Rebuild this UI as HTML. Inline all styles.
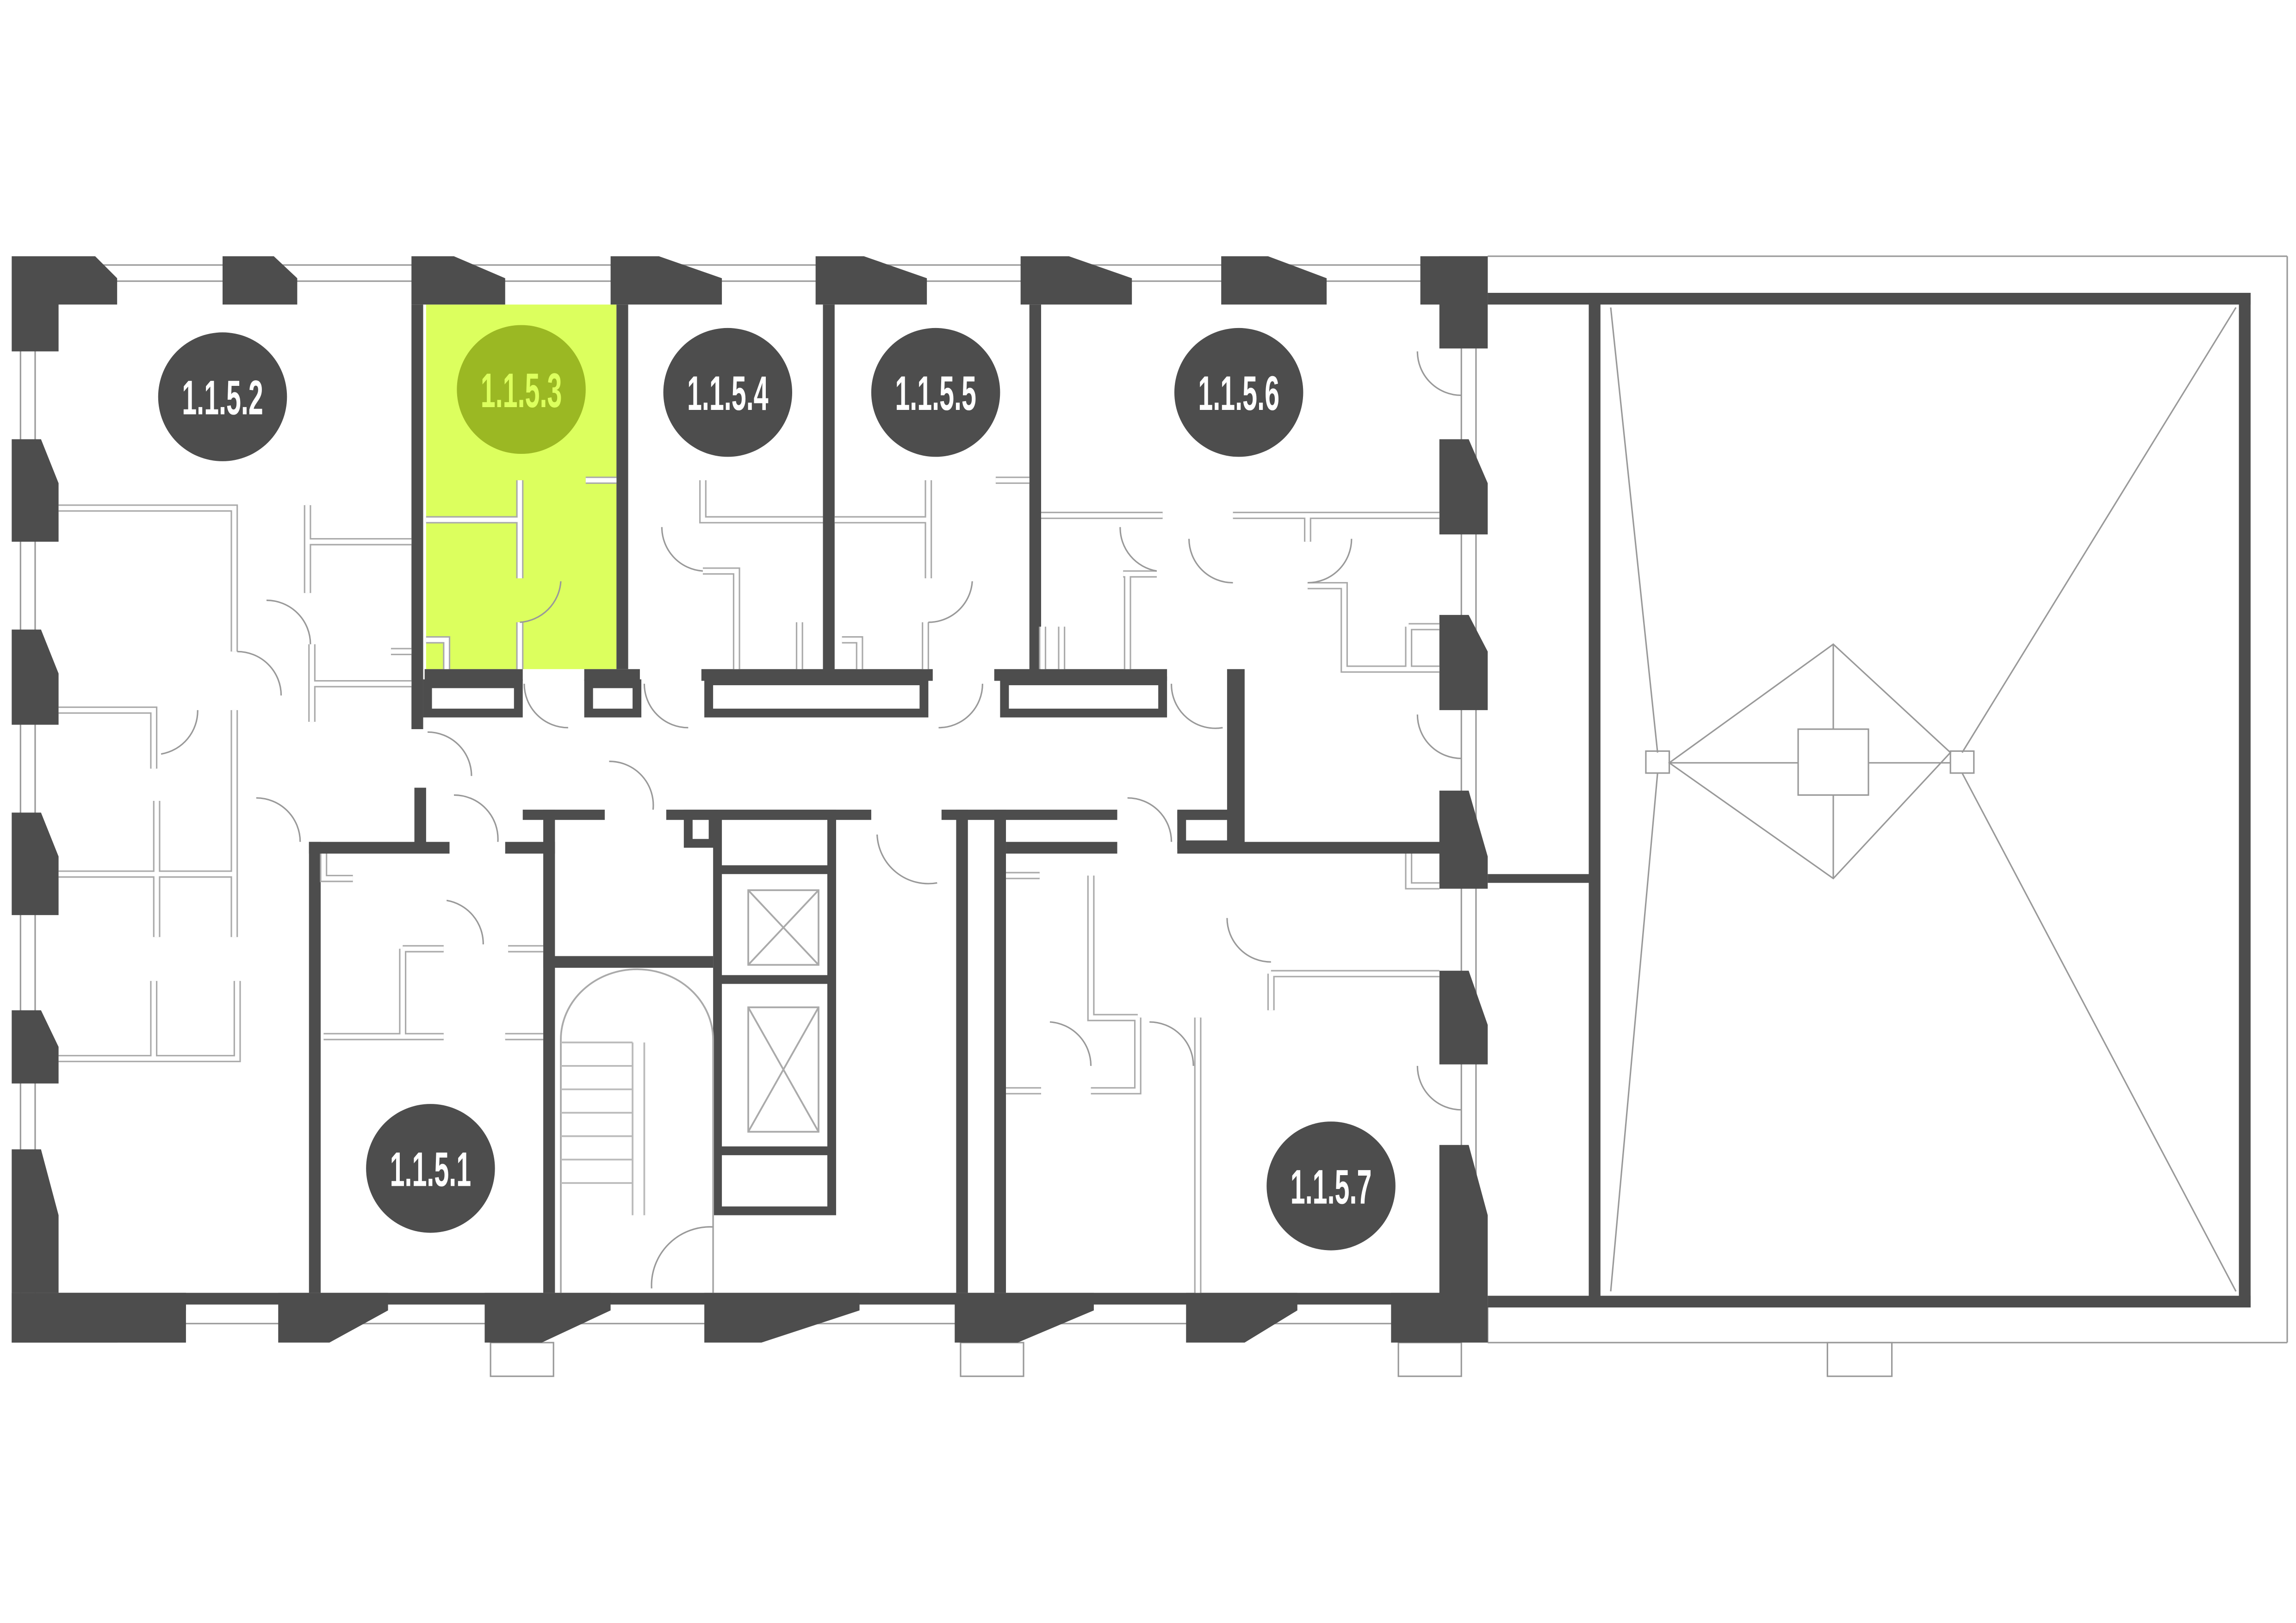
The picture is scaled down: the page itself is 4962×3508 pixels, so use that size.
<!DOCTYPE html>
<html><head><meta charset="utf-8"><style>
html,body{margin:0;padding:0;background:#fff;width:4962px;height:3508px;overflow:hidden}
svg{display:block}
text{font-family:"Liberation Sans",sans-serif;font-size:33px;font-weight:bold;fill:#fff;text-anchor:middle}
</style></head><body>
<svg width="4962" height="3508" viewBox="0 0 1568 1108.5" xmlns="http://www.w3.org/2000/svg">
<defs>
<g id="parts">
<path d="M40,347 H160 V445 M40,485 H105 V525 M40,597 H160 M107,547 V640 M160,485 V640 M40,723 H162 V670 M105,670 V723 M210,345 V405 M210,370 H281 M213,440 V493 M213,467 H281 M267,445 H281"/>
<path d="M355,328 V395 M291,355 H355 M400,328 H421 M355,425 V457 M291,437 H305 V457"/>
<path d="M480,328 V355 H562 M480,390 H503 V457 M634,328 V395 M570,355 H634 M546,425 V457 M575,437 H587 V457 M632,425 V457"/>
<path d="M711,352 H794 M680,328 H703 M767,392 H790 M770,392 V457 M712,428 V457 M725,428 V457"/>
<path d="M842,352 H983 M893,352 V370 M893,400 H918 V457 H983 M918,400 V415 M962,428 H983 M962,428 V457"/>
<path d="M221,708 H303 M345,708 H371 M275,648 V708 M275,648 H303 M347,648 H371 M221,583 V600 H241"/>
<path d="M687,598 H710 M745,598 V695 H777 M745,745 H777 V695 M687,745 H711 M818,695 V883 M868,665 H983 M868,665 V690 M962,583 V605 H983"/>
</g>
</defs>
<g fill="none" stroke="#999" stroke-width="1">
<line x1="40" y1="181" x2="983" y2="181"/><line x1="40" y1="192" x2="983" y2="192"/>
<line x1="40" y1="889" x2="983" y2="889"/><line x1="40" y1="904" x2="983" y2="904"/>
<line x1="14" y1="208" x2="14" y2="883"/><line x1="24" y1="208" x2="24" y2="883"/>
<line x1="998" y1="238" x2="998" y2="883"/><line x1="1008" y1="238" x2="1008" y2="883"/>
<line x1="1016" y1="892" x2="1016" y2="917"/><line x1="1016" y1="917" x2="1562" y2="917"/><line x1="1562" y1="175" x2="1562" y2="917"/><line x1="1016" y1="175" x2="1562" y2="175"/>
<rect x="335" y="917" width="43" height="23"/><rect x="656" y="917" width="43" height="23"/><rect x="955" y="917" width="43" height="23"/><rect x="1248" y="917" width="44" height="23"/>
<line x1="1100" y1="210" x2="1132" y2="514"/><line x1="1527" y1="210" x2="1340" y2="514"/>
<line x1="1100" y1="882" x2="1132" y2="528"/><line x1="1527" y1="882" x2="1340" y2="528"/>
<polygon points="1252,440 1332,514 1252,600 1140,521"/>
<line x1="1140" y1="521" x2="1332" y2="521"/><line x1="1252" y1="440" x2="1252" y2="600"/>
<rect x="1124" y="513" width="16" height="15"/><rect x="1332" y="513" width="16" height="15"/>
<rect x="1228" y="498" width="48" height="45" fill="#fff"/>
</g>
<rect x="291" y="208" width="130" height="249" fill="#dcff5e"/>
<g fill="#4d4d4d">
<polygon points="8,175 65,175 80,190 80,208 40,208 40,240 8,240"/>
<polygon points="152,175 187,175 203,190 203,208 152,208"/>
<polygon points="281,175 310,175 345,190 345,208 281,208"/>
<polygon points="417,175 450,175 493,190 493,208 417,208"/>
<polygon points="557,175 590,175 633,190 633,208 557,208"/>
<polygon points="697,175 730,175 773,190 773,208 697,208"/>
<polygon points="834,175 866,175 906,190 906,208 834,208"/>
<rect x="970" y="175" width="46" height="33"/><rect x="983" y="175" width="33" height="63"/>
<polygon points="8,300 28,300 40,330 40,370 8,370"/>
<polygon points="8,430 28,430 40,460 40,495 8,495"/>
<polygon points="8,555 28,555 40,585 40,625 8,625"/>
<polygon points="8,690 28,690 40,715 40,740 8,740"/>
<polygon points="8,785 28,785 40,830 40,883 8,883"/>
<rect x="8" y="883" width="119" height="34"/>
<polygon points="983,300 1003,300 1016,330 1016,365 983,365"/>
<polygon points="983,420 1003,420 1016,445 1016,485 983,485"/>
<polygon points="983,540 1003,540 1016,585 1016,607 983,607"/>
<polygon points="983,663 1003,663 1016,700 1016,727 983,727"/>
<polygon points="983,782 1003,782 1016,830 1016,917 950,917 950,883 983,883"/>
<polygon points="40,883 127,883 127,895 80,917 8,917 8,883"/>
<polygon points="190,883 265,883 265,895 225,917 190,917"/>
<polygon points="331,883 417,883 417,895 370,917 331,917"/>
<polygon points="481,883 587,883 587,895 520,917 481,917"/>
<polygon points="652,883 747,883 747,895 695,917 652,917"/>
<polygon points="810,883 886,883 886,895 850,917 810,917"/>
<rect x="40" y="883" width="943" height="8"/>
<rect x="1016" y="200" width="521" height="8"/><rect x="1016" y="885" width="521" height="8"/>
<rect x="1529" y="200" width="8" height="693"/><rect x="1085" y="200" width="8" height="693"/>
<rect x="1016" y="597" width="70" height="6"/>
<rect x="281" y="208" width="8" height="290"/><rect x="421" y="208" width="8" height="249"/>
<rect x="562" y="208" width="8" height="252"/><rect x="703" y="208" width="8" height="252"/>
<rect x="290" y="457" width="67" height="8"/><rect x="399" y="457" width="38" height="8"/>
<rect x="479" y="457" width="158" height="8"/><rect x="679" y="457" width="118" height="8"/>
<rect x="838" y="457" width="12" height="120"/>
<rect x="804" y="575" width="185" height="8"/>
<rect x="283" y="538" width="8" height="40"/>
<rect x="211" y="575" width="96" height="8"/><rect x="211" y="575" width="8" height="308"/>
<rect x="345" y="575" width="34" height="8"/>
<rect x="371" y="553" width="8" height="330"/>
<rect x="357" y="553" width="56" height="7"/><rect x="455" y="553" width="140" height="7"/>
<rect x="371" y="653" width="116" height="8"/>
<rect x="643" y="553" width="120" height="7"/><rect x="687" y="575" width="76" height="8"/>
<rect x="653" y="553" width="8" height="330"/><rect x="679" y="553" width="8" height="330"/>
<rect x="804" y="553" width="40" height="7"/>
</g>
<g fill="none" stroke="#4d4d4d" stroke-width="6">
<rect x="292" y="467" width="62" height="20"/><rect x="402" y="467" width="33" height="20"/>
<rect x="484" y="465" width="147" height="22"/><rect x="686" y="465" width="108" height="22"/>
<rect x="807" y="557" width="34" height="20"/>
<rect x="490" y="556" width="78" height="271"/>
<line x1="490" y1="594" x2="568" y2="594"/><line x1="490" y1="669" x2="568" y2="669"/><line x1="490" y1="786" x2="568" y2="786"/>
<rect x="470" y="556" width="17" height="20"/>
</g>
<g fill="none" stroke="#aaa" stroke-width="1.2">
<rect x="511" y="608" width="48" height="51"/><line x1="511" y1="608" x2="559" y2="659"/><line x1="559" y1="608" x2="511" y2="659"/>
<rect x="511" y="688" width="48" height="85"/><line x1="511" y1="688" x2="559" y2="773"/><line x1="559" y1="688" x2="511" y2="773"/>
<path d="M383,883 V710 A52,48 0 0 1 487,710 V883"/>
<g stroke="#bbb"><line x1="383" y1="712" x2="432" y2="712"/><line x1="383" y1="728" x2="432" y2="728"/><line x1="383" y1="744" x2="432" y2="744"/><line x1="383" y1="760" x2="432" y2="760"/><line x1="383" y1="776" x2="432" y2="776"/><line x1="383" y1="792" x2="432" y2="792"/><line x1="383" y1="808" x2="432" y2="808"/><line x1="432" y1="712" x2="432" y2="830"/><line x1="440" y1="712" x2="440" y2="830"/></g>
</g>
<g fill="none" stroke="#aaa" stroke-width="5"><use href="#parts"/></g>
<g fill="none" stroke="#fff" stroke-width="3"><use href="#parts"/></g>
<g fill="none" stroke="#999" stroke-width="1">
<path d="M182,410 A30,30 0 0 1 212,440"/><path d="M162,445 A30,30 0 0 1 192,475"/><path d="M110,515 A30,30 0 0 0 135,485"/>
<path d="M175,545 A30,30 0 0 1 205,575"/><path d="M383,397 A30,30 0 0 1 355,425"/><path d="M452,360 A30,30 0 0 0 480,390"/>
<path d="M664,397 A30,30 0 0 1 634,425"/><path d="M765,360 A30,30 0 0 0 790,390"/><path d="M812,368 A30,30 0 0 0 842,398"/>
<path d="M923,368 A30,30 0 0 1 893,398"/><path d="M358,467 A30,30 0 0 0 388,497"/><path d="M440,467 A30,30 0 0 0 470,497"/>
<path d="M671,467 A30,30 0 0 1 641,497"/><path d="M800,467 A30,30 0 0 0 835,497"/><path d="M292,500 A30,30 0 0 1 322,530"/>
<path d="M310,543 A30,30 0 0 1 340,575"/><path d="M416,520 A30,30 0 0 1 446,553"/><path d="M599,570 A35,35 0 0 0 640,603"/>
<path d="M770,545 A30,30 0 0 1 800,575"/><path d="M305,615 A30,30 0 0 1 330,645"/><path d="M838,627 A30,30 0 0 0 868,657"/>
<path d="M717,698 A30,30 0 0 1 745,728"/><path d="M785,698 A30,30 0 0 1 815,728"/><path d="M445,880 A40,40 0 0 1 487,838"/>
<path d="M968,240 A30,30 0 0 0 998,270"/><path d="M968,488 A30,30 0 0 0 998,518"/><path d="M968,728 A30,30 0 0 0 998,758"/>
</g>
<g fill="#4d4d4d">
<circle cx="152" cy="271" r="44"/><circle cx="497" cy="268" r="44"/><circle cx="639" cy="268" r="44"/>
<circle cx="846" cy="268" r="44"/><circle cx="294" cy="798" r="44"/><circle cx="909" cy="810" r="44"/>
</g>
<circle cx="356" cy="266" r="44" fill="#9bb823"/>
<text transform="translate(152,283) scale(0.55,1)">1.1.5.2</text>
<text transform="translate(356,278) scale(0.55,1)" style="fill:#dcff5e">1.1.5.3</text>
<text transform="translate(497,280) scale(0.55,1)">1.1.5.4</text>
<text transform="translate(639,280) scale(0.55,1)">1.1.5.5</text>
<text transform="translate(846,280) scale(0.55,1)">1.1.5.6</text>
<text transform="translate(294,810) scale(0.55,1)">1.1.5.1</text>
<text transform="translate(909,822) scale(0.55,1)">1.1.5.7</text>
</svg>
</body></html>
